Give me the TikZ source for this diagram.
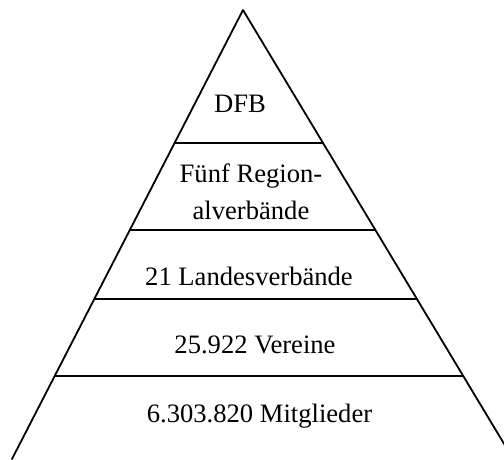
\documentclass[tikz,border=0pt]{standalone}
\usepackage{fontspec}
\setmainfont{Liberation Serif}
\usetikzlibrary{calc}
\begin{document}
\begin{tikzpicture}[x=1pt,y=-1pt,
  edge/.style={line width=1.8pt,line cap=round,line join=round},
  lbl/.style={anchor=base,inner sep=0pt,font=\fontsize{26.6}{30}\selectfont}]
\useasboundingbox (0,0) rectangle (504,459);
\begin{scope}
\clip (0,0) rectangle (504,459);
\coordinate (apex) at (243,10);
\coordinate (bl) at (12,459);
\coordinate (br) at (513.2,459);
\draw[edge] (bl) -- (apex) -- (br);
\foreach \t/\n in {0.2962/a,0.4900/b,0.6437/c,0.8151/d}{
  \coordinate (l\n) at ($(apex)!\t!(bl)$);
  \coordinate (r\n) at ($(apex)!\t!(br)$);
  \draw[edge,line cap=butt] (l\n) -- (r\n);
}
\end{scope}
\node[lbl] (dfb) at (240,112) {DFB};
\node[lbl] (reg1) at (251,182) {Fünf Region-};
\node[lbl] (reg2) at (251,219) {alverbände};
\node[lbl] (lv) at (249,285) {21 Landesverbände};
\node[lbl] (ver) at (255,353) {25.922 Vereine};
\node[lbl] (mit) at (259.5,422) {6.303.820 Mitglieder};
\end{tikzpicture}
\end{document}
